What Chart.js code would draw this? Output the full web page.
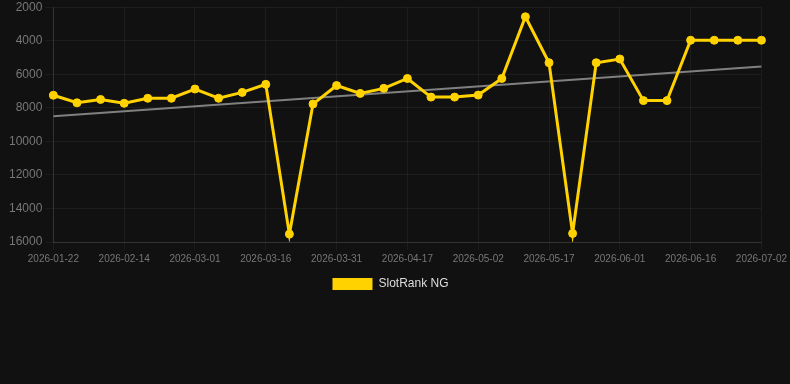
<!DOCTYPE html>
<html>
<head>
<meta charset="utf-8">
<script src="https://cdn.jsdelivr.net/npm/chart.js@4/dist/chart.umd.min.js"></script>
<style>
  html, body { margin: 0; padding: 0; background: #111111; }
  #wrap { width: 790px; height: 384px; }
</style>
</head>
<body>
<div id="wrap"><canvas id="chart"></canvas></div>
<script>
// dates on the x axis (only every 3rd one is shown)
const dates = [
  '2026-01-22', '2026-01-29', '2026-02-06', '2026-02-14', '2026-02-19', '2026-02-24',
  '2026-03-01', '2026-03-06', '2026-03-11', '2026-03-16', '2026-03-21', '2026-03-26',
  '2026-03-31', '2026-04-06', '2026-04-11', '2026-04-17', '2026-04-22', '2026-04-27',
  '2026-05-02', '2026-05-07', '2026-05-12', '2026-05-17', '2026-05-22', '2026-05-27',
  '2026-06-01', '2026-06-06', '2026-06-11', '2026-06-16', '2026-06-21', '2026-06-26',
  '2026-07-02'
];

const rankValues = [
  7250, 7700, 7500, 7730, 7430, 7430, 6880, 7430, 7080, 6600,
  15530, 7770, 6670, 7140, 6840, 6250, 7360, 7360, 7240, 6250,
  2570, 5310, 15490, 5310, 5090, 7570, 7570, 3970, 3970, 3970,
  3970
];

// trend line, only the two end points are known
const trendValues = [8500].concat(new Array(29).fill(null), [5540]);

const yTicks = [2000, 4000, 6000, 8000, 10000, 12000, 14000, 16000];

const yellow = '#ffd200';
const fontFamily = "'Liberation Sans', Arial, sans-serif";

// nudge the legend a few px left so it sits where the original one does
const legendShift = {
    id: 'legendShift',
    afterLayout: (c) => {
        c.legend.left -= 6;
        c.legend.right -= 6;
    }
};

let ctx = document.getElementById('chart').getContext('2d');

let chart = new Chart(ctx, {
    type: 'line',
    data: {
        labels: dates,
        datasets: [{
            label: 'SlotRank NG',
            data: rankValues,
            borderColor: yellow,
            backgroundColor: yellow,
            borderWidth: 3,
            pointRadius: 4,
            pointBorderWidth: 1,
            pointHoverRadius: 4,
            tension: 0
        }, {
            label: 'trend',
            data: trendValues,
            borderColor: '#808080',
            borderWidth: 2,
            pointRadius: 0,
            spanGaps: true,
            tension: 0
        }]
    },
    options: {
        responsive: true,
        maintainAspectRatio: false,
        animation: false,
        layout: {
            padding: { left: 6, right: 3, top: 0, bottom: 84 }
        },
        scales: {
            x: {
                offset: false,
                grid: { color: 'rgba(255,255,255,0.05)' },
                border: { color: 'rgba(255,255,255,0.1)' },
                afterBuildTicks: (scale) => {
                    scale.ticks = scale.ticks.filter((t, i) => i % 3 === 0);
                },
                ticks: {
                    autoSkip: false,
                    maxRotation: 0,
                    color: '#777777',
                    font: { family: fontFamily, size: 10 }
                }
            },
            y: {
                reverse: true,
                min: 2000,
                max: 16000,
                afterBuildTicks: (scale) => {
                    scale.ticks = yTicks.map(v => ({ value: v }));
                },
                grid: { color: 'rgba(255,255,255,0.05)' },
                border: { color: 'rgba(255,255,255,0.1)' },
                ticks: {
                    color: '#777777',
                    font: { family: fontFamily, size: 12, lineHeight: 0.7 },
                    callback: (value) => String(value)
                }
            }
        },
        plugins: {
            legend: {
                display: true,
                position: 'bottom',
                labels: {
                    boxWidth: 40,
                    boxHeight: 12,
                    color: '#dddddd',
                    font: { family: fontFamily, size: 12 },
                    filter: (item) => item.text !== 'trend',
                    generateLabels: (c) => {
                        let items = Chart.defaults.plugins.legend.labels.generateLabels(c);
                        items.forEach(it => { it.lineWidth = 0; });
                        return items;
                    }
                }
            },
            tooltip: { enabled: false }
        }
    },
    plugins: [legendShift]
});
</script>
</body>
</html>
